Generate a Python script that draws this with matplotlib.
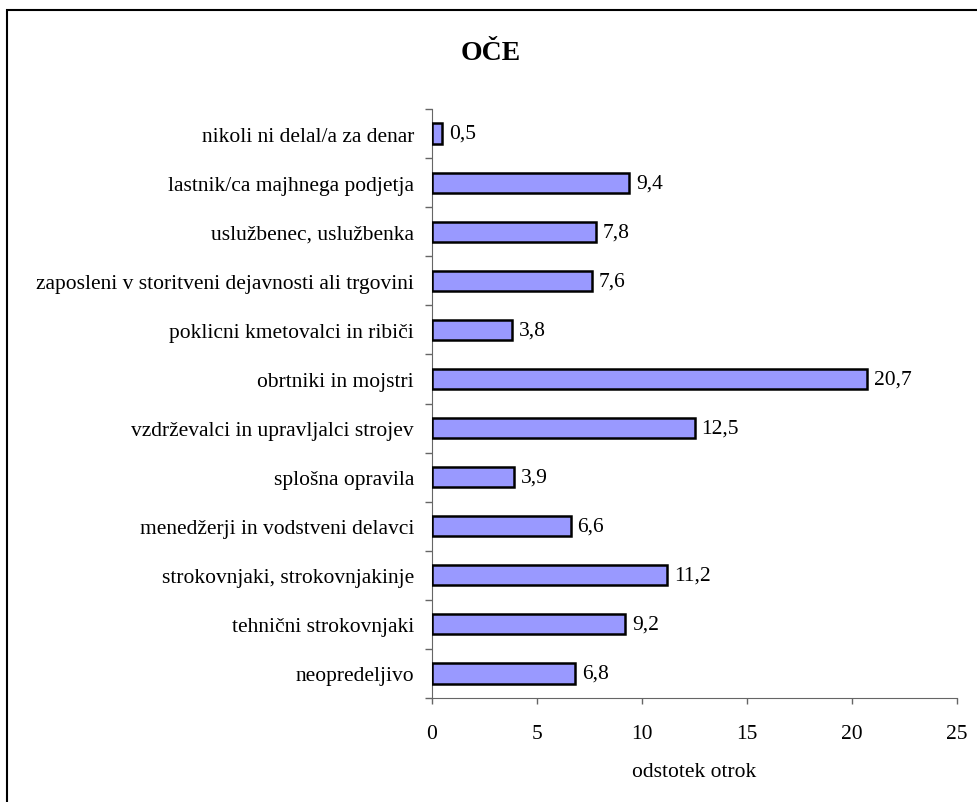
import numpy as np
import matplotlib
matplotlib.use("Agg")
import matplotlib.pyplot as plt
from matplotlib.patches import Rectangle

# data, bottom to top
categories = [
    "neopredeljivo",
    "tehnični strokovnjaki",
    "strokovnjaki, strokovnjakinje",
    "menedžerji in vodstveni delavci",
    "splošna opravila",
    "vzdrževalci in upravljalci strojev",
    "obrtniki in mojstri",
    "poklicni kmetovalci in ribiči",
    "zaposleni v storitveni dejavnosti ali trgovini",
    "uslužbenec, uslužbenka",
    "lastnik/ca majhnega podjetja",
    "nikoli ni delal/a za denar",
]
values = [6.8, 9.2, 11.2, 6.6, 3.9, 12.5, 20.7, 3.8, 7.6, 7.8, 9.4, 0.5]
xticks = [0, 5, 10, 15, 20, 25]

plt.rcParams['font.family'] = ['Liberation Serif', 'DejaVu Serif']
W, H = 978, 803
fig = plt.figure(figsize=(W / 100, H / 100), dpi=100)

left, right, top, bottom = 432, 957, 110, 699
ax = fig.add_axes([left / W, 1 - bottom / H, (right - left) / W, (bottom - top) / H])

fs = 15.5
y = np.arange(len(categories))
ax.barh(y, values, height=0.41, color='#9999FF', edgecolor='black', linewidth=1.8, zorder=3)

for yi, v in zip(y, values):
    ax.annotate(f"{v:.1f}".replace('.', ','), (v, yi), xytext=(5, 0),
                textcoords='offset points', va='center', ha='left', fontsize=fs)

ax.set_xlim(0, 25)
ax.set_ylim(-0.5, len(categories) - 0.5)
ax.set_xticks(xticks)
ax.set_xticklabels([str(t) for t in xticks], fontsize=fs)
ax.tick_params(axis='x', direction='out', length=4.5, width=1, pad=14, color='#666666')

ax.set_yticks(y)
ax.set_yticklabels(categories, fontsize=fs)
ax.tick_params(axis='y', which='major', length=0, pad=13)
ax.set_yticks(np.arange(-0.5, len(categories), 1.0), minor=True)
ax.tick_params(axis='y', which='minor', direction='out', length=5, width=1, color='#666666')

for s in ['top', 'right']:
    ax.spines[s].set_visible(False)
ax.spines['left'].set_color('#666666')
ax.spines['bottom'].set_color('#666666')

ax.set_xlabel("odstotek otrok", fontsize=fs, labelpad=14)
fig.text(491 / W, 1 - 53 / H, "OČE", ha='center', va='center', fontsize=20, fontweight='bold')

# outer frame
fig.patches.append(Rectangle((7 / W, -0.05), 1.2, 1 - 11 / H + 0.05, transform=fig.transFigure,
                             fill=False, edgecolor='black', linewidth=1.5))

fig.savefig("out.png", dpi=100)
